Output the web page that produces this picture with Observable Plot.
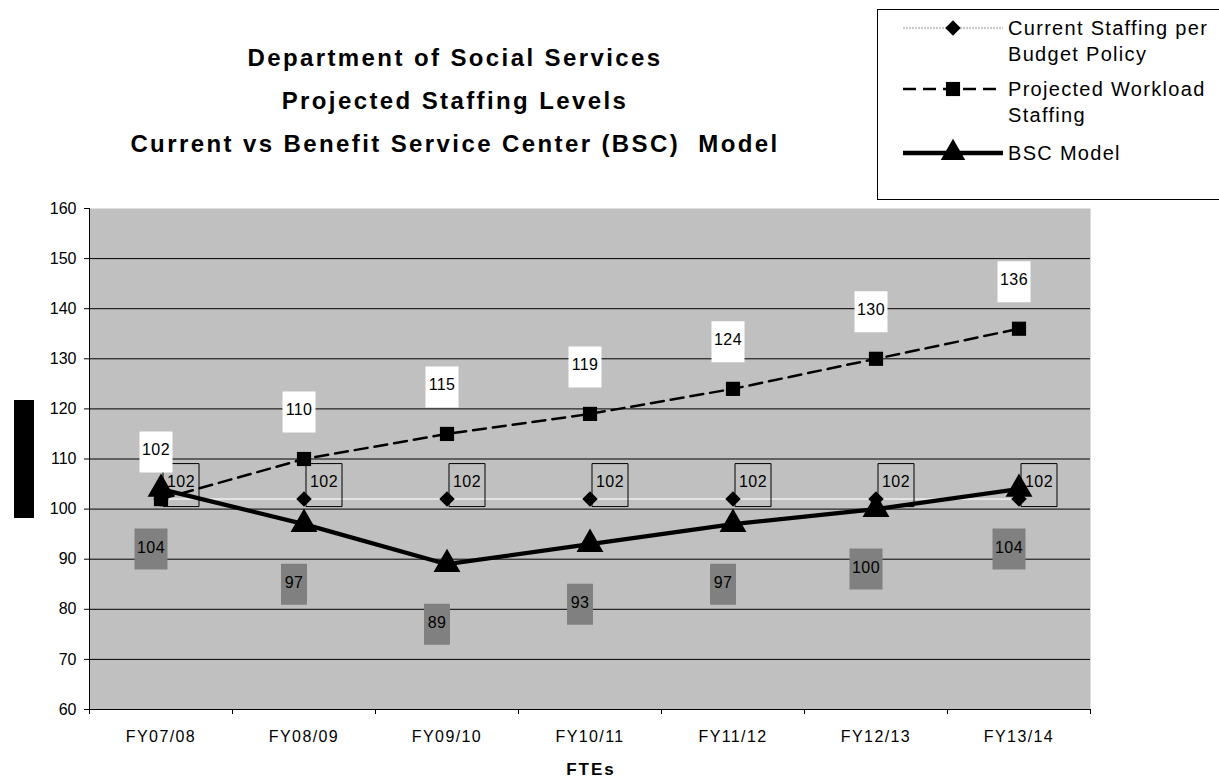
<!DOCTYPE html>
<html>
<head>
<meta charset="utf-8">
<script src="https://cdn.jsdelivr.net/npm/d3@7"></script>
<script src="https://cdn.jsdelivr.net/npm/@observablehq/plot@0.6"></script>
<style>
  html, body { margin: 0; padding: 0; background: #fff; }
  #wrap { position: relative; width: 1219px; height: 783px; overflow: hidden; font-family: "Liberation Sans", Arial, sans-serif; }
  #title { position: absolute; left: 0; top: 36px; width: 910px; text-align: center; font-weight: bold; font-size: 24px; line-height: 43px; letter-spacing: 2.4px; color: #000; }
  #ybar { position: absolute; left: 14px; top: 400px; width: 20px; height: 118px; background: #000; }
  #legend { position: absolute; left: 877px; top: 9px; }
  #chart { position: absolute; left: 0; top: 0; }
  #chart g[aria-label="x-axis tick label"] text { letter-spacing: 1.4px; }
  #chart g.fte-label text { letter-spacing: 2px; }
  #chart g.value-label text { letter-spacing: 0.4px; }
</style>
</head>
<body>
<div id="wrap">
  <div id="chart"></div>
  <div id="title">Department of Social Services<br>Projected Staffing Levels<br>Current vs Benefit Service Center (BSC)&nbsp; Model</div>
  <div id="ybar"></div>
  <div id="legend"></div>
</div>
<script>
// Fiscal years and staffing levels (FTEs)
const categories = ["FY07/08", "FY08/09", "FY09/10", "FY10/11", "FY11/12", "FY12/13", "FY13/14"];
const currentStaffing = [102, 102, 102, 102, 102, 102, 102];
const projectedWorkload = [102, 110, 115, 119, 124, 130, 136];
const bscModel = [104, 97, 89, 93, 97, 100, 104];
const yTicks = [60, 70, 80, 90, 100, 110, 120, 130, 140, 150, 160];
const seriesNames = ["Current Staffing per\nBudget Policy", "Projected Workload\nStaffing", "BSC Model"];

const rows = categories.map((c, i) => ({
  cat: c,
  pos: i + 0.5,
  current: currentStaffing[i],
  projected: projectedWorkload[i],
  bsc: bscModel[i]
}));

// rectangular symbol used as a label background
const box = (w, h) => ({ draw(ctx) { ctx.rect(-w / 2, -h / 2, w, h); } });

const labelStyle = { fontSize: 16, className: "value-label" };

const chart = Plot.plot({
  width: 1219,
  height: 783,
  marginLeft: 89,
  marginRight: 129,
  marginTop: 208,
  marginBottom: 74,
  style: { fontFamily: "Liberation Sans, Arial, sans-serif", background: "transparent", color: "#000" },
  x: { domain: [0, categories.length] },
  y: { domain: [60, 160] },
  marks: [
    Plot.frame({ fill: "#C0C0C0", stroke: "none" }),
    Plot.ruleY(yTicks.filter(v => v > 60 && v < 160), { stroke: "#000", strokeWidth: 1 }),
    Plot.ruleY([60], { stroke: "#000", strokeWidth: 1 }),
    Plot.ruleX([0], { y1: 60, y2: 160, stroke: "#000", strokeWidth: 1 }),
    Plot.axisY({ ticks: yTicks, tickSize: 5, tickPadding: 8, fontSize: 16, label: null }),
    Plot.axisX({ ticks: d3.range(0, categories.length + 1), tickSize: 5, tickFormat: () => "", label: null }),
    Plot.axisX({ ticks: rows.map(d => d.pos), tickSize: 0, tickPadding: 21, fontSize: 16,
      tickFormat: p => categories[Math.floor(p)], label: null }),
    Plot.text(["FTEs"], { frameAnchor: "bottom", dy: 65, dx: 1, text: d => d, fontSize: 17, fontWeight: "bold", className: "fte-label" }),

    // Current staffing per budget policy
    Plot.line(rows, { x: "pos", y: "current", stroke: "#e4e4e4", strokeWidth: 2, strokeDasharray: "2,1" }),
    Plot.dot(rows, { x: "pos", y: "current", symbol: "diamond2", r: 7, fill: "#000", stroke: "none" }),
    Plot.dot(rows, { x: "pos", y: "current", symbol: box(36, 43), r: 1, fill: "none", stroke: "#000", strokeWidth: 1, dx: 20, dy: -14 }),
    Plot.text(rows, { x: "pos", y: "current", text: d => String(d.current), dx: 20, dy: -17, ...labelStyle }),

    // Projected workload staffing
    Plot.line(rows, { x: "pos", y: "projected", stroke: "#000", strokeWidth: 2.5, strokeDasharray: "13,7" }),
    Plot.dot(rows, { x: "pos", y: "projected", symbol: "square", r: 8, fill: "#000", stroke: "none" }),
    Plot.dot(rows, { x: "pos", y: "projected", symbol: box(33, 41), r: 1, fill: "#fff", stroke: "none", dx: -5, dy: -47 }),
    Plot.text(rows, { x: "pos", y: "projected", text: d => String(d.projected), dx: -5, dy: -49, ...labelStyle }),

    // BSC model
    Plot.line(rows, { x: "pos", y: "bsc", stroke: "#000", strokeWidth: 4.3 }),
    Plot.dot(rows, { x: "pos", y: "bsc", symbol: "triangle", r: 10, fill: "#000", stroke: "none" }),
    Plot.dot(rows.filter(d => String(d.bsc).length > 2), { x: "pos", y: "bsc", symbol: box(33, 41), r: 1, fill: "#808080", stroke: "none", dx: -10, dy: 60 }),
    Plot.dot(rows.filter(d => String(d.bsc).length <= 2), { x: "pos", y: "bsc", symbol: box(26, 41), r: 1, fill: "#808080", stroke: "none", dx: -10, dy: 60 }),
    Plot.text(rows, { x: "pos", y: "bsc", text: d => String(d.bsc), dx: -10, dy: 59, ...labelStyle })
  ]
});
document.getElementById("chart").appendChild(chart);

// Legend box with line samples
const lg = d3.select("#legend").append("svg")
  .attr("width", 342).attr("height", 192)
  .style("font-family", "Liberation Sans, Arial, sans-serif");
lg.append("rect").attr("x", 0.5).attr("y", 0.5).attr("width", 400).attr("height", 190)
  .attr("fill", "#fff").attr("stroke", "#000").attr("stroke-width", 1);

const legendStyles = [
  { stroke: "#cccccc", width: 2.5, dash: "2,1", symbol: d3.symbolDiamond2, size: 150 },
  { stroke: "#000", width: 2.5, dash: "13,7", symbol: d3.symbolSquare, size: 200 },
  { stroke: "#000", width: 4.3, dash: null, symbol: d3.symbolTriangle, size: 260 }
];
const legendRowY = [19, 80, 144];
seriesNames.forEach((name, i) => {
  const s = legendStyles[i];
  const y = legendRowY[i];
  lg.append("line").attr("x1", 26).attr("x2", 126).attr("y1", y).attr("y2", y)
    .attr("stroke", s.stroke).attr("stroke-width", s.width)
    .attr("stroke-dasharray", s.dash);
  lg.append("path").attr("d", d3.symbol(s.symbol, s.size)())
    .attr("transform", `translate(76,${y})`).attr("fill", "#000");
  const t = lg.append("text").attr("x", 131).attr("y", y).attr("font-size", 20)
    .attr("dominant-baseline", "central").style("letter-spacing", "1.3px");
  name.split("\n").forEach((ln, j) => {
    t.append("tspan").attr("x", 131).attr("dy", j === 0 ? 0 : 26).text(ln);
  });
});
</script>
</body>
</html>
